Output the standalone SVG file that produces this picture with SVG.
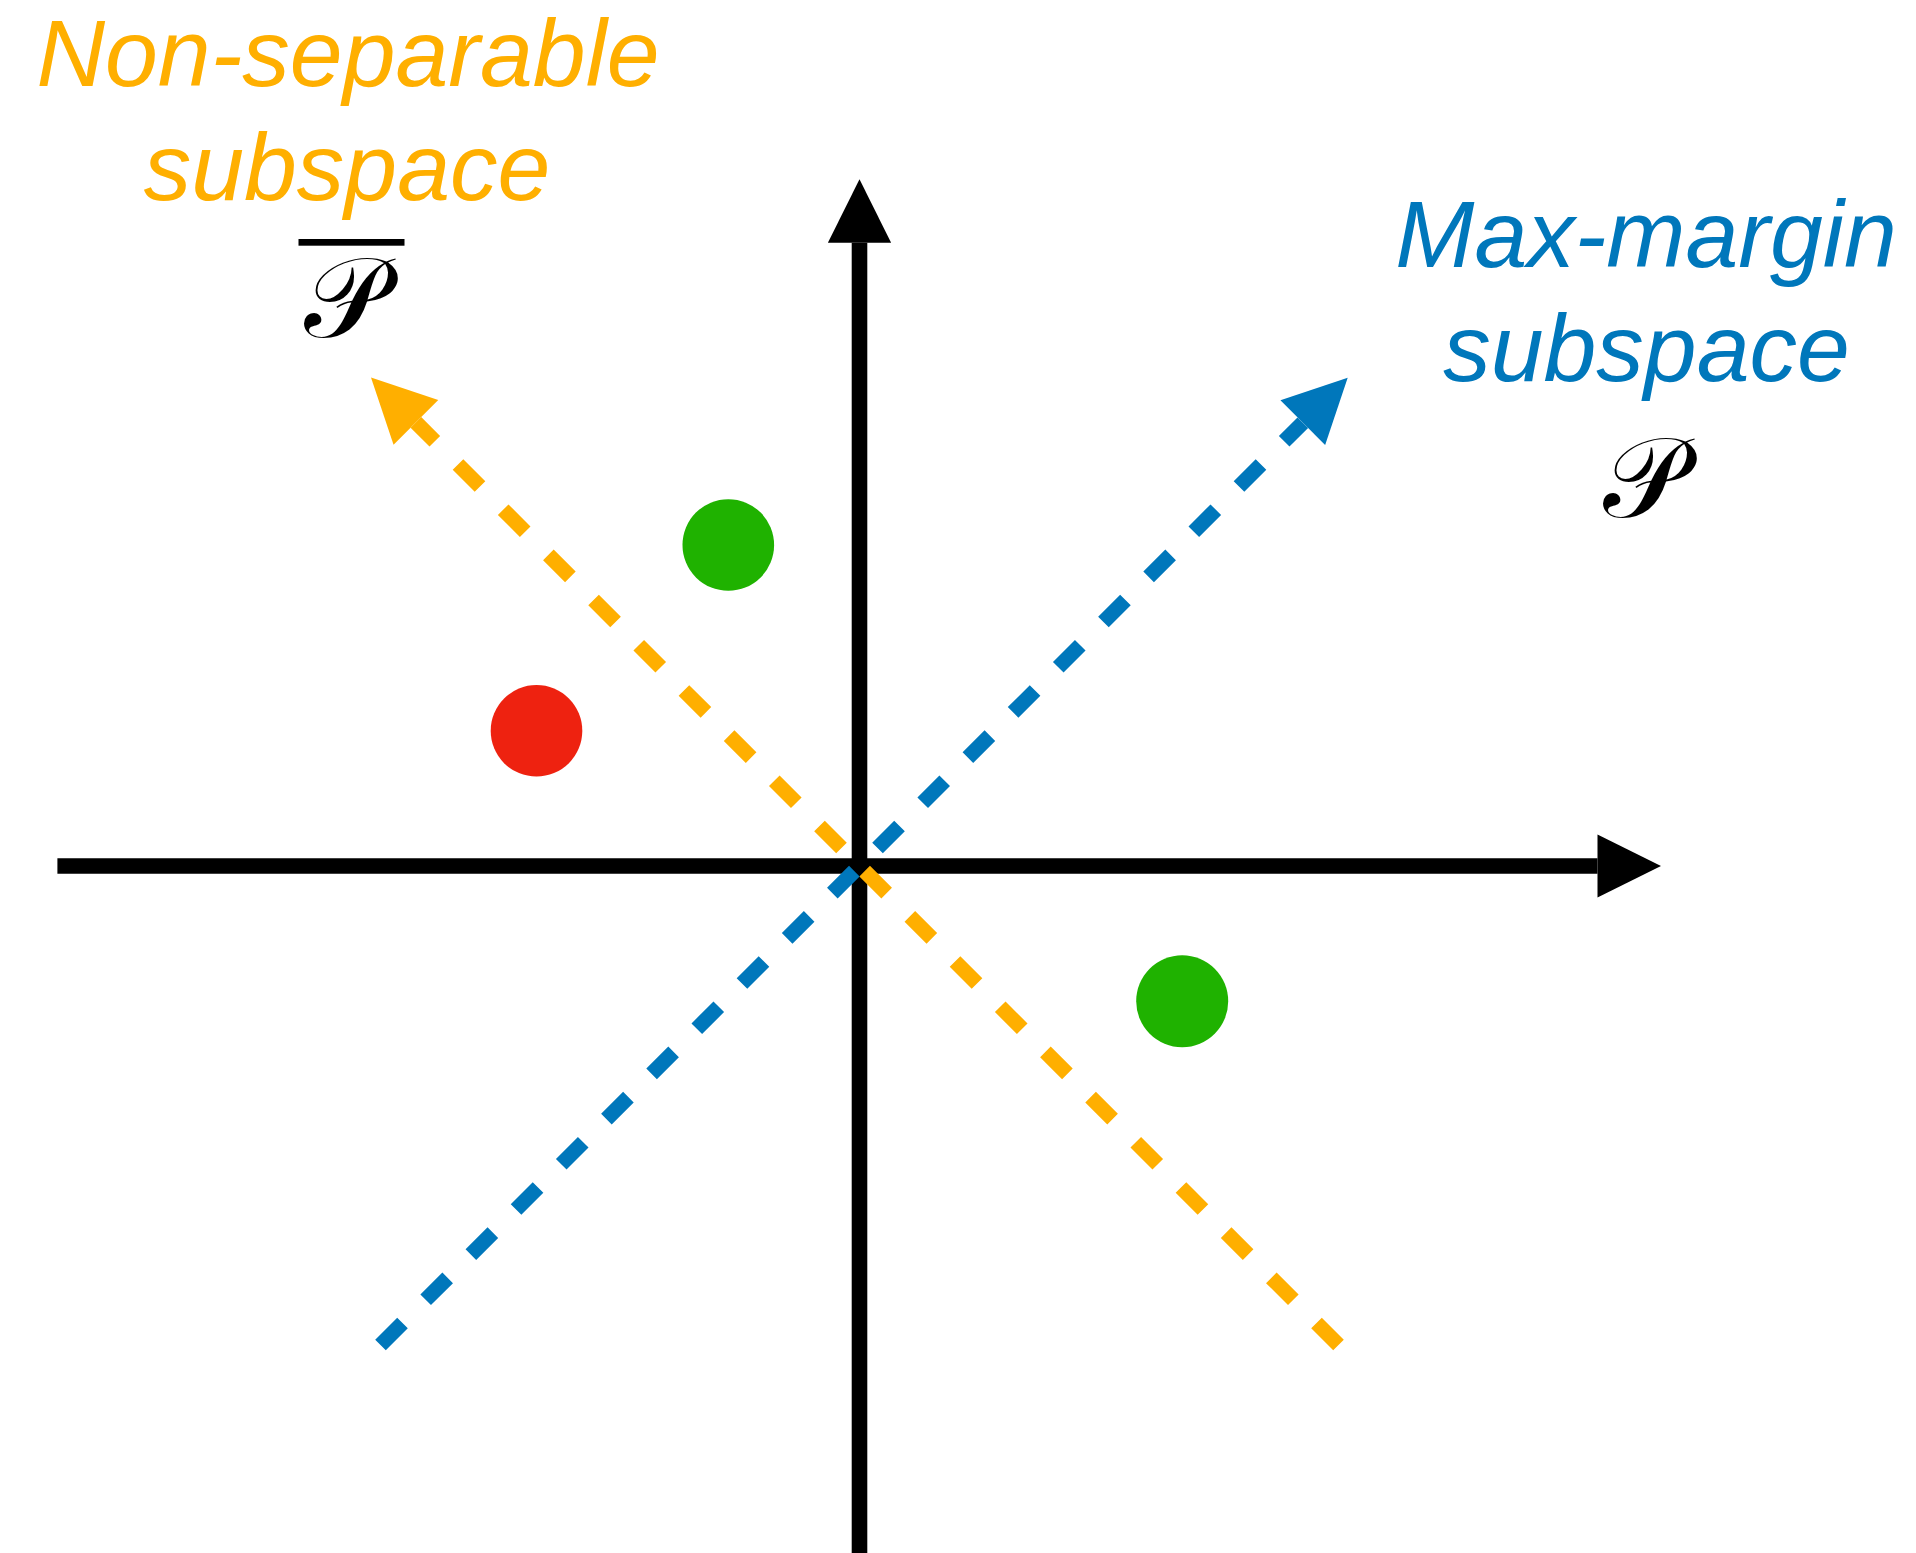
<svg xmlns="http://www.w3.org/2000/svg" width="1916" height="1553" viewBox="0 0 1916 1553">
  <style>
    .axis { stroke: #000000; stroke-width: 15.6; fill: none; }
    .dash { stroke-width: 15; stroke-dasharray: 31.1 32.8; fill: none; }
    .lbl { font-family: "Liberation Sans", Arial, sans-serif; font-style: italic; font-size: 95px; text-anchor: middle; }
    .math { font-family: "DejaVu Serif", "DejaVu Sans", "Noto Sans", serif; font-size: 114px; text-anchor: middle; fill: #000000; }
  </style>
  <defs>
    <marker id="headBlack" markerUnits="userSpaceOnUse" orient="auto" markerWidth="64" markerHeight="64" viewBox="0 -32 64 64" refX="0" refY="0" overflow="visible">
      <path d="M0,-31.6 L63.5,0 L0,31.6 Z" fill="#000000"/>
    </marker>
    <marker id="headOrange" markerUnits="userSpaceOnUse" orient="auto" markerWidth="64" markerHeight="64" viewBox="0 -32 64 64" refX="0" refY="0" overflow="visible">
      <path d="M0,-31.6 L63.5,0 L0,31.6 Z" fill="#FFAF00"/>
    </marker>
    <marker id="headBlue" markerUnits="userSpaceOnUse" orient="auto" markerWidth="64" markerHeight="64" viewBox="0 -32 64 64" refX="0" refY="0" overflow="visible">
      <path d="M0,-31.6 L63.5,0 L0,31.6 Z" fill="#0077BB"/>
    </marker>
  </defs>
  <rect width="1916" height="1553" fill="#ffffff"/>

  <g id="connectors">
    <path id="axis-y" class="axis" d="M859.5,1553 L859.5,242.7" marker-end="url(#headBlack)"/>
    <path id="axis-x" class="axis" d="M57.4,866 L1597.5,866" marker-end="url(#headBlack)"/>
    <path id="nonsep-line" class="dash" stroke="#FFAF00" d="M1338.5,1345 L415.9,422.4" marker-end="url(#headOrange)"/>
    <path id="maxmargin-line" class="dash" stroke="#0077BB" d="M380.5,1345 L1302.8,422.7" marker-end="url(#headBlue)"/>
  </g>

  <g id="point-green-1">
    <circle cx="728.3" cy="545" r="45.8" fill="#1FB200"/>
  </g>
  <g id="point-red">
    <circle cx="536.5" cy="730.8" r="45.8" fill="#EE2210"/>
  </g>
  <g id="point-green-2">
    <circle cx="1182.2" cy="1001.2" r="46" fill="#1FB200"/>
  </g>

  <g id="label-nonseparable">
    <text class="lbl" fill="#FFAF00" x="348" y="85.5">Non-separable</text>
    <text class="lbl" fill="#FFAF00" x="347" y="200">subspace</text>
    <rect x="298.5" y="239" width="106" height="6.7" fill="#000000"/>
    <text class="math" x="345" y="337">𝒫</text>
  </g>

  <g id="label-maxmargin">
    <text class="lbl" fill="#0077BB" x="1646" y="267">Max-margin</text>
    <text class="lbl" fill="#0077BB" x="1646.5" y="381">subspace</text>
    <text class="math" x="1644" y="517">𝒫</text>
  </g>
</svg>
